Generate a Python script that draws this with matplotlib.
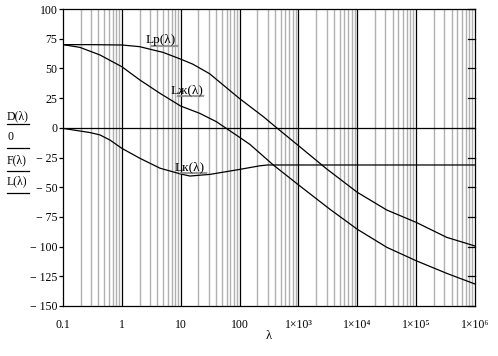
import numpy as np
import matplotlib
matplotlib.use("Agg")
import matplotlib.pyplot as plt
from matplotlib.lines import Line2D

plt.rcParams['font.family'] = ['Liberation Serif', 'DejaVu Serif']

# values
lam_p = [0.1, 0.3, 1, 2, 5, 10, 16, 31, 100, 253, 427, 1e3, 3e3, 1e4, 3.17e4, 1e5, 3.3e5, 1e6]
Lp = [70, 70, 69.7, 68.3, 63.5, 57.8, 53.6, 45.5, 24.6, 9.4, 0, -15, -34.5, -54.3, -69.2, -79.6, -92.2, -99.5]

lam_zh = [0.1, 0.194, 0.425, 1, 2.03, 4.45, 10, 21, 40.5, 100, 150, 374, 1e3, 3435, 1e4, 3.17e4, 1e5, 3.3e5, 1e6]
Lzh = [70, 67.7, 61.3, 51.4, 40.2, 29, 18.3, 12.2, 5.1, -8, -14, -31.3, -48, -68.6, -85.4, -100.6, -111.9, -122.5, -131.5]

lam_k = [0.1, 0.194, 0.287, 0.425, 0.628, 1, 2.03, 4.45, 10, 14.4, 31.4, 101, 220, 300, 1e6]
Lk = [-0.5, -2.7, -4, -6, -10.3, -17.3, -25.7, -34, -38.9, -40.6, -39.2, -35, -32, -31.3, -31.3]

zero_x = [0.1, 1e6]
zero_y = [0, 0]

y_ticks = [100, 75, 50, 25, 0, -25, -50, -75, -100, -125, -150]
x_ticks = [0.1, 1, 10, 100, 1e3, 1e4, 1e5, 1e6]
x_labels = ["0.1", "1", "10", "100", "1×10³", "1×10⁴", "1×10⁵", "1×10⁶"]
trace_names = ["D(λ)", "0", "F(λ)", "L(λ)"]

W, H = 498, 356
fig = plt.figure(figsize=(W / 100, H / 100), dpi=100)
ax = fig.add_axes([63 / W, 1 - 306 / H, 412 / W, 297 / H])
ax.set_xscale('log')
ax.set_xlim(0.1, 1e6)
ax.set_ylim(-150, 100)

# grid: gray minor, black decades
for d in range(-1, 6):
    for m in range(2, 10):
        ax.axvline(m * 10.0 ** d, color='#b0b0b0', lw=1.0, zorder=1)
for xt in x_ticks[1:-1]:
    ax.axvline(xt, color='black', lw=0.9, zorder=2)

ax.plot(zero_x, zero_y, color='black', lw=0.9, zorder=3)
ax.plot(lam_p, Lp, color='black', lw=0.9, zorder=3)
ax.plot(lam_zh, Lzh, color='black', lw=0.9, zorder=3)
ax.plot(lam_k, Lk, color='black', lw=0.9, zorder=3)

for s in ax.spines.values():
    s.set_linewidth(0.9)
    s.set_zorder(4)

ax.set_xticks(x_ticks)
ax.set_xticklabels(x_labels, fontsize=8.5)
ax.xaxis.set_minor_locator(matplotlib.ticker.NullLocator())
ax.tick_params(axis='x', length=0, pad=9)
ax.set_yticks(y_ticks)
ax.set_yticklabels([str(v).replace('-', '− ') for v in y_ticks], fontsize=8.5)
ax.tick_params(axis='y', direction='out', length=3, width=0.9, pad=1)
# inward ticks on the right
for v in y_ticks:
    ax.plot([0.983, 1.0], [v, v], color='black', lw=0.9,
            transform=ax.get_yaxis_transform(), clip_on=False, zorder=4)

ax.set_xlabel("λ", fontsize=9)
ax.xaxis.set_label_coords(0.5, -0.08)

# stacked trace names on the left
ys = [116.5, 137.5, 160, 181.5]
uls = [124, 147.5, 170.5, 193]
for name, yc, ul in zip(trace_names, ys, uls):
    fig.text(7 / W, 1 - yc / H, name, fontsize=8.5, ha='left', va='center')
    fig.add_artist(Line2D([7 / W, 29 / W], [1 - ul / H, 1 - ul / H],
                          color='black', lw=0.9))


def squiggle(x0, x1, yb):
    xs = np.linspace(x0, x1, int((x1 - x0) * 1.5) + 2)
    yy = yb + 0.8 * np.where(np.arange(len(xs)) % 2 == 0, 1, -1)
    fig.add_artist(Line2D(xs / W, 1 - yy / H, color='#8a8a8a', lw=0.6))


labels = [("Lр(λ)", 161, 40), ("Lж(λ)", 187, 90), ("Lк(λ)", 190, 167)]
for txt, cx, cy in labels:
    fig.text(cx / W, 1 - cy / H, txt, fontsize=9.5, ha='center', va='center', zorder=5)
    squiggle(cx - 10, cx + 17, cy + 6)

fig.savefig("out.png", dpi=100)
